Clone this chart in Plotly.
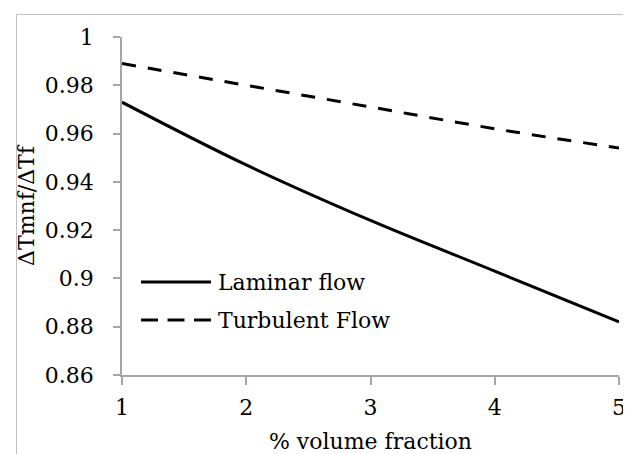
import plotly.graph_objects as go

volume_fraction = [1, 2, 3, 4, 5]
laminar = [0.973, 0.947, 0.924, 0.903, 0.882]
turbulent = [0.989, 0.980, 0.971, 0.962, 0.954]
y_tick_vals = [0.86, 0.88, 0.90, 0.92, 0.94, 0.96, 0.98, 1.00]
y_tick_text = ["0.86", "0.88", "0.9", "0.92", "0.94", "0.96", "0.98", "1"]
x_tick_vals = [1, 2, 3, 4, 5]
series_names = ["Laminar flow", "Turbulent Flow"]

FONT = "DejaVu Serif"
FS = 22
AX = "#a6a6a6"
DASH = "14px,12px"
LEG_DASH = "17px,9.5px"

fig = go.Figure()
fig.add_trace(go.Scatter(x=volume_fraction, y=laminar, mode="lines", name=series_names[0],
                         line=dict(color="black", width=3, shape="spline")))
fig.add_trace(go.Scatter(x=volume_fraction, y=turbulent, mode="lines", name=series_names[1],
                         line=dict(color="black", width=3, dash=DASH, shape="spline")))

L, R, T, B = 114, 20, 29, 87
W, H = 631, 454
pw, ph = W - L - R, H - T - B

def px(x):
    return (x - L) / pw

def py(y):
    return (H - B - y) / ph

shapes = [
    dict(type="rect", xref="paper", yref="paper", x0=px(8.5), x1=px(629.5), y0=py(6.5), y1=py(452.5),
         line=dict(color="#bfbfbf", width=1), fillcolor="rgba(0,0,0,0)", layer="below"),
]
annotations = []
leg_y = [274, 312]
dashes = [None, LEG_DASH]
for name, yy, d in zip(series_names, leg_y, dashes):
    ln = dict(color="black", width=3)
    if d:
        ln["dash"] = d
    shapes.append(dict(type="line", xref="paper", yref="paper", x0=px(133), x1=px(203),
                       y0=py(yy), y1=py(yy), line=ln))
    annotations.append(dict(xref="paper", yref="paper", x=px(208), y=py(yy), text=name,
                            showarrow=False, xanchor="left", yanchor="middle",
                            font=dict(family=FONT, size=FS, color="black")))

fig.update_layout(
    width=W, height=H,
    margin=dict(l=L, r=R, t=T, b=B),
    paper_bgcolor="white", plot_bgcolor="white",
    showlegend=False,
    font=dict(family=FONT, size=FS, color="black"),
    shapes=shapes, annotations=annotations,
    xaxis=dict(range=[1, 5], tickvals=x_tick_vals, showgrid=False, zeroline=False,
               showline=True, linecolor=AX, linewidth=1.5, ticks="outside", ticklen=8,
               tickcolor=AX, tickwidth=1.5, ticklabelstandoff=4,
               tickfont=dict(family=FONT, size=FS),
               title=dict(text="% volume fraction", standoff=14, font=dict(family=FONT, size=FS))),
    yaxis=dict(range=[0.86, 1.0], tickvals=y_tick_vals, ticktext=y_tick_text, showgrid=False,
               zeroline=False, showline=True, linecolor=AX, linewidth=1.5, ticks="outside",
               ticklen=7, tickcolor=AX, tickwidth=1.5, ticklabelstandoff=15,
               tickfont=dict(family=FONT, size=FS),
               title=dict(text="ΔTmnf/ΔTf", standoff=4, font=dict(family=FONT, size=FS))),
)
fig.write_html("out.html")
